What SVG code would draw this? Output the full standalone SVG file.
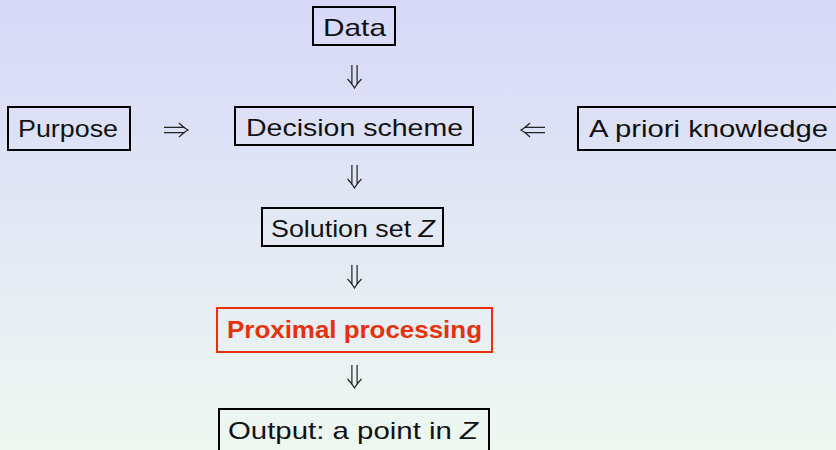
<svg xmlns="http://www.w3.org/2000/svg" xmlns:xlink="http://www.w3.org/1999/xlink" width="836" height="450" viewBox="0 0 836 450">
<defs>
<linearGradient id="bg" x1="0" y1="0" x2="0" y2="1">
<stop offset="0" stop-color="#d7d8f8"/>
<stop offset="1" stop-color="#eef8f1"/>
</linearGradient>
<g id="dar">
<path d="M-2.6,-23 V-3 M2.6,-23 V-3 M-7,-9 Q-2,-4 0,0 Q2,-4 7,-9" fill="none" stroke="#222" stroke-width="1.2"/>
</g>
<g id="rar">
<path d="M-24,-2.6 H-3 M-24,2.6 H-3 M-9,-7 Q-4,-2 0,0 Q-4,2 -9,7" fill="none" stroke="#222" stroke-width="1.2"/>
</g>
</defs>
<style>
.box{fill:none;stroke:#000;stroke-width:2}
.t{font-family:"Liberation Sans","DejaVu Sans",sans-serif;font-size:24px;fill:#111}
.red{fill:#e8300c;font-weight:bold}
</style>
<rect width="836" height="450" fill="url(#bg)"/>
<g id="data">
<rect class="box" x="313" y="7" width="82" height="38"/>
<text class="t" x="323" y="36" textLength="63" lengthAdjust="spacingAndGlyphs">Data</text>
</g>
<g id="purpose">
<rect class="box" x="8" y="107" width="122" height="43"/>
<text class="t" x="18" y="137" textLength="100" lengthAdjust="spacingAndGlyphs">Purpose</text>
</g>
<g id="decision">
<rect class="box" x="235" y="107" width="238" height="38"/>
<text class="t" x="246" y="136" textLength="217" lengthAdjust="spacingAndGlyphs">Decision scheme</text>
</g>
<g id="apriori">
<rect class="box" x="578" y="107" width="262" height="43"/>
<text class="t" x="589" y="137" textLength="239" lengthAdjust="spacingAndGlyphs">A priori knowledge</text>
</g>
<g id="solution">
<rect class="box" x="262" y="208" width="181" height="38"/>
<text class="t" x="271" y="237" textLength="164" lengthAdjust="spacingAndGlyphs">Solution set <tspan font-style="italic">Z</tspan></text>
</g>
<g id="proximal">
<rect class="box" x="217" y="308" width="275" height="44" style="stroke:#e8300c"/>
<text class="t red" x="227" y="338" textLength="255" lengthAdjust="spacingAndGlyphs">Proximal processing</text>
</g>
<g id="output">
<rect class="box" x="219" y="409" width="270" height="50"/>
<text class="t" x="228" y="439" textLength="250" lengthAdjust="spacingAndGlyphs">Output: a point in <tspan font-style="italic">Z</tspan></text>
</g>
<g id="connectors">
<use xlink:href="#dar" transform="translate(354.5,88)"/>
<use xlink:href="#dar" transform="translate(354.5,188)"/>
<use xlink:href="#dar" transform="translate(354.5,288)"/>
<use xlink:href="#dar" transform="translate(354.5,388)"/>
<use xlink:href="#rar" transform="translate(188,130)"/>
<use xlink:href="#rar" transform="translate(521,130) scale(-1,1)"/>
</g>
</svg>
